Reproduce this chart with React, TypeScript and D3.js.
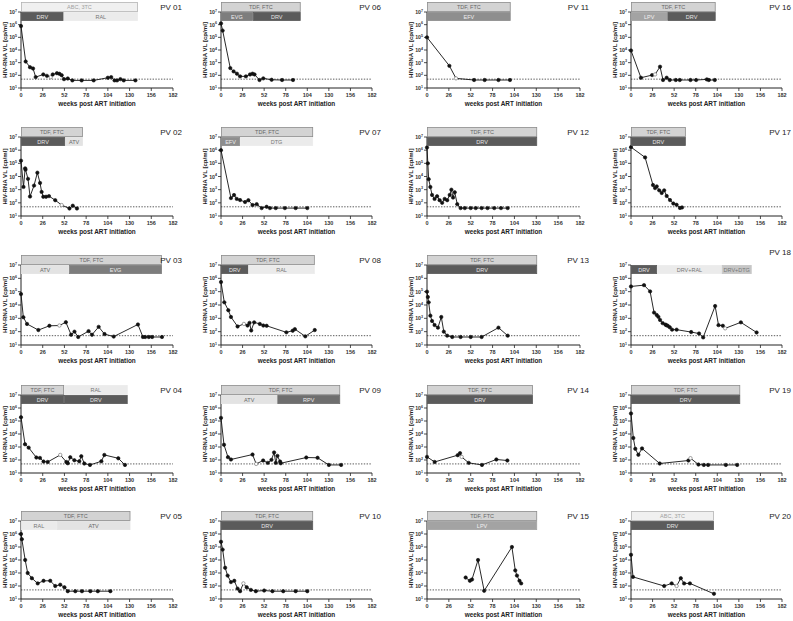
import React from 'react';
import * as d3 from 'd3';

// ---- data: [week, log10(VL cp/ml), open?] ----
const pv01 = [[0,5.89],[5.6,3.09],[10.8,2.64],[14.4,2.54],[17.6,1.86],[26.7,2.07],[31,1.96],[35.5,1.86,1],[38,2.07],[43,2.17],[46,2.12],[48.7,2.01],[51.5,1.7],[56,1.75],[61.5,1.6],[72.6,1.6],[87,1.6],[104,1.81],[108,1.86],[112,1.6],[115,1.6],[119,1.7],[123,1.6],[137,1.6]];
const pv06 = [[0,6.1],[2,5.53],[11.2,2.57],[15.2,2.31],[19.2,2.13],[23,1.92],[30,1.92],[35,2.07],[38,2.13],[40.4,2.07],[46.4,1.63],[51,1.76],[61,1.65],[73.6,1.63],[86.8,1.63]];
const pv11 = [[0,5.0],[26.6,2.75],[34.5,1.76,1],[56,1.63],[68.6,1.63],[85,1.63],[98.7,1.63]];
const pv16 = [[0,3.96],[12,1.81],[25.4,2.02],[29,2.07,1],[35,2.68],[38.6,1.63],[43,1.81],[46.7,1.63],[54,1.63],[58.8,1.63],[71.7,1.63],[78.5,1.63],[91.4,1.68],[93.8,1.63],[101,1.63]];
const pv02 = [[0,5.2],[3,3.21],[5,4.62],[5.4,4.52],[8.4,3.82],[10.8,2.48],[15.6,3.31],[19.6,4.29],[22.8,3.51],[24.7,2.83],[26.7,2.46],[30,2.46],[33.5,2.51],[41,2.2],[48.7,1.83,1],[58,1.57],[62,1.78],[67,1.57]];
const pv07 = [[0,6.0],[12,2.36],[15.7,2.59],[19,2.3],[23,2.21],[29,2.06],[33,2.2],[38,1.83],[43,1.9],[49,1.6],[55,1.7],[59,1.6],[66,1.6],[77,1.6],[90,1.6],[104,1.6]];
const pv12 = [[0,6.2],[1,5.0],[2,3.8],[4,3.2],[6,2.6],[9,2.3],[12,2.5],[15,2.2],[18,2.0],[21,2.3],[24,2.2],[27,2.6],[29,3.0],[31,2.4],[33,2.8],[36,1.9],[40,1.6],[45,1.6],[52,1.6],[58,1.6],[65,1.6],[72,1.6],[80,1.6],[88,1.6],[96,1.6]];
const pv17 = [[0,6.23],[17,5.45],[26.5,3.35],[29,3.12],[31,3.25],[34,2.95],[37,2.75],[40,2.95],[43,2.52],[47,2.21],[51,1.95],[55,1.85],[59,1.61],[61.5,1.65]];
const pv03 = [[0,4.82],[2.8,3.08],[7.2,2.58],[20.8,2.12],[34,2.44],[46,2.46,1],[53.7,2.71],[60,1.77],[64,2.0],[68.5,1.6],[80.9,2.04],[85,1.77],[93,2.36],[100,1.82],[111,1.63],[140,2.54],[146,1.6],[148.7,1.6],[153,1.6],[157,1.6],[168.8,1.6]];
const pv08 = [[0,5.72],[4,4.2],[8.8,3.61],[12,3.1],[20,2.39],[27.6,2.58,1],[32,2.46],[34.4,2.66],[36.4,2.09],[40,2.7],[46.8,2.58],[51,2.46],[55,2.44],[78.8,1.95],[86.4,2.07],[89,2.19],[101.6,1.65],[113,2.12]];
const pv13 = [[0,5.0],[1,4.6],[2,4.2],[4,3.2],[6,2.8],[9,2.5],[13,2.3],[17,3.1],[20,2.0],[24,1.7],[30,1.6],[40,1.6],[52,1.6],[65,1.6],[85,2.3],[96,1.7]];
const pv18 = [[0,5.39],[15.7,5.49],[23,5.02],[27.8,3.43],[31,3.25],[33,3.11],[35,2.88],[38.2,2.64],[41.5,2.53],[42.5,2.49],[44.3,2.44],[46.7,2.33],[49.5,2.15],[55,2.15],[72.5,1.97],[82,1.86],[87,1.57],[101.4,3.92],[105.5,2.49],[110.7,2.44],[113.5,2.25,1],[132.4,2.7],[151.4,1.94]];
const pv04 = [[0,5.29],[4.8,3.21],[9.2,2.95],[18.4,2.19],[22.7,2.16],[27,1.88],[32,1.85],[47,2.39,1],[54.3,1.85],[56,1.75],[59,2.21],[63.9,1.98],[69.8,1.9],[72.2,2.29],[75.8,1.73],[82.6,1.62],[96.2,1.9],[99.8,2.39],[116.5,2.13],[124.5,1.62]];
const pv09 = [[0,5.24],[3.6,3.17],[8.4,2.22],[12,2.04],[38,2.42],[42.4,1.7,1],[50.8,1.96],[56.4,1.78],[60.8,2.01],[64,2.58],[66,1.78],[68,2.32],[71.2,1.88],[72,1.75],[102.8,2.19],[116.4,2.17],[130,1.62],[144.8,1.62]];
const pv14 = [[0,2.24],[9.1,1.85],[36.5,2.37],[39.3,2.53],[41.2,2.24,1],[49.6,1.78],[65.4,1.62],[82.5,2.04],[95.6,1.96]];
const pv19 = [[0,5.58],[2.8,3.69],[5.2,2.86],[8.9,2.4],[13.3,2.89],[34.6,1.73],[69.2,1.96],[71.7,2.14,1],[81.3,1.65],[87.8,1.62],[93,1.62],[114.3,1.62],[128,1.62]];
const pv05 = [[0,6.0],[1,5.6],[5,4.0],[8,3.0],[13,2.6],[20,2.2],[27,2.4],[35,2.4],[41,2.0],[47,2.1],[52,1.9],[56,1.6],[65,1.6],[73,1.6],[83,1.6],[92,1.6],[107,1.6]];
const pv10 = [[0,5.4],[2,4.8],[5,3.4],[8,2.8],[12,2.3],[16,2.4],[20,1.8],[23,1.6],[27,2.2,1],[31,1.9],[36,1.7],[42,1.6],[52,1.65],[62,1.6],[75,1.6],[90,1.6],[104,1.6]];
const pv15 = [[46,2.65],[51,2.4],[53.5,2.5],[60.7,4.0],[68,1.63],[101,5.0],[105,3.2],[107,2.8],[110,2.4],[112,2.2]];
const pv20 = [[0,4.4],[2.4,2.7],[40,2.0],[49,2.2],[55,2.0,1],[60,2.6],[64,2.2],[71,2.2],[100,1.4]];

// ---- treatment bars: [row, startWeek, endWeek, label, kind] ----
const pv01Bars = [[0,0,140,'ABC, 3TC','abc'],[1,0,51,'DRV','drv'],[1,51,140,'RAL','ral']];
const pv06Bars = [[0,0,96,'TDF, FTC','tdf'],[1,0,38.4,'EVG','evg'],[1,38.4,96,'DRV','drv']];
const pv11Bars = [[0,0,99.5,'TDF, FTC','tdf'],[1,0,99.5,'EFV','efv']];
const pv16Bars = [[0,0,102,'TDF, FTC','tdf'],[1,0,44,'LPV','lpv'],[1,44,102,'DRV','drv']];
const pv02Bars = [[0,0,74,'TDF, FTC','tdf'],[1,0,53,'DRV','drv'],[1,53,74,'ATV','atv']];
const pv07Bars = [[0,0,111,'TDF, FTC','tdf'],[1,0,23,'EFV','efv'],[1,23,111,'DTG','dtg']];
const pv12Bars = [[0,0,131,'TDF, FTC','tdf'],[1,0,131,'DRV','drv']];
const pv17Bars = [[0,0,66,'TDF, FTC','tdf'],[1,0,66,'DRV','drv']];
const pv03Bars = [[0,0,168.7,'TDF, FTC','tdf'],[1,0,57.7,'ATV','atv'],[1,57.7,168.7,'EVG','evg']];
const pv08Bars = [[0,0,113,'TDF, FTC','tdf'],[1,0,33,'DRV','drv'],[1,33,113,'RAL','ral']];
const pv13Bars = [[0,0,131,'TDF, FTC','tdf'],[1,0,131,'DRV','drv']];
const pv18Bars = [[1,0,31.4,'DRV','drv'],[1,31.4,109.5,'DRV+RAL','ral'],[1,109.5,145.4,'DRV+DTG','dtg2']];
const pv04Bars = [[0,0,51.5,'TDF, FTC','tdf'],[0,51.5,127.7,'RAL','ral'],[1,0,51.5,'DRV','drv'],[1,51.5,127.7,'DRV','drv']];
const pv09Bars = [[0,0,143.6,'TDF, FTC','tdf'],[1,0,68,'ATV','atv'],[1,68,143.6,'RPV','rpv']];
const pv14Bars = [[0,0,126,'TDF, FTC','tdf'],[1,0,126,'DRV','drv']];
const pv19Bars = [[0,0,131.6,'TDF, FTC','tdf'],[1,0,131.6,'DRV','drv']];
const pv05Bars = [[0,0,131,'TDF, FTC','tdf'],[1,0,43,'RAL','ral'],[1,43,131,'ATV','atv']];
const pv10Bars = [[0,0,111,'TDF, FTC','tdf'],[1,0,111,'DRV','drv']];
const pv15Bars = [[0,0,131,'TDF, FTC','tdf'],[1,0,131,'LPV','lpv']];
const pv20Bars = [[0,0,100,'ABC, 3TC','abc'],[1,0,100,'DRV','drv']];

const panelIds = ['PV 01','PV 06','PV 11','PV 16','PV 02','PV 07','PV 12','PV 17','PV 03','PV 08','PV 13','PV 18','PV 04','PV 09','PV 14','PV 19','PV 05','PV 10','PV 15','PV 20'];
const panelPts = [pv01,pv06,pv11,pv16,pv02,pv07,pv12,pv17,pv03,pv08,pv13,pv18,pv04,pv09,pv14,pv19,pv05,pv10,pv15,pv20];
const panelBars = [pv01Bars,pv06Bars,pv11Bars,pv16Bars,pv02Bars,pv07Bars,pv12Bars,pv17Bars,pv03Bars,pv08Bars,pv13Bars,pv18Bars,pv04Bars,pv09Bars,pv14Bars,pv19Bars,pv05Bars,pv10Bars,pv15Bars,pv20Bars];

const xTicks = [0, 26, 52, 78, 104, 130, 156, 182];
const yExps = [1, 2, 3, 4, 5, 6, 7];
const detectionLimit = 50;

// ---- layout ----
const colX0 = [21, 221, 427, 631];
const colX1 = [173, 372, 580, 782];
const rowTop = [12, 137, 265, 395, 521];
const rowBot = [88, 216, 345, 473, 599];

const barStyle: Record<string, { fill: string; stroke: string; text: string }> = {
  tdf: { fill: '#d3d3d3', stroke: '#8c8c8c', text: '#666' },
  abc: { fill: '#f0f0f0', stroke: '#b4b4b4', text: '#a0a0a0' },
  drv: { fill: '#5b5b5b', stroke: '#5b5b5b', text: '#e6e6e6' },
  evg: { fill: '#7d7d7d', stroke: '#7d7d7d', text: '#eee' },
  efv: { fill: '#8e8e8e', stroke: '#8e8e8e', text: '#eee' },
  lpv: { fill: '#a3a3a3', stroke: '#a3a3a3', text: '#f2f2f2' },
  rpv: { fill: '#6e6e6e', stroke: '#6e6e6e', text: '#eee' },
  ral: { fill: '#ebebeb', stroke: '#ebebeb', text: '#777' },
  atv: { fill: '#e3e3e3', stroke: '#e3e3e3', text: '#666' },
  dtg: { fill: '#ebebeb', stroke: '#ebebeb', text: '#777' },
  dtg2: { fill: '#c6c6c6', stroke: '#c6c6c6', text: '#777' },
};

const FONT = '"Liberation Sans", Arial, sans-serif';

function Panel({ idx }: { idx: number }) {
  const col = idx % 4;
  const row = Math.floor(idx / 4);
  const x0 = colX0[col], x1 = colX1[col];
  const top = rowTop[row], bot = rowBot[row];
  const x = d3.scaleLinear().domain([0, 182]).range([x0, x1]);
  const y = d3.scaleLog().domain([10, 1e7]).range([bot, top]);
  const pts = panelPts[idx] as number[][];
  const bars = panelBars[idx] as any[];
  const line = d3.line<number[]>().x(d => x(d[0])).y(d => y(Math.pow(10, d[1])));
  const id = panelIds[idx];
  const labelDy = id === 'PV 18' ? -8 : 0;
  return (
    <g>
      {/* dashed detection limit */}
      <line x1={x0} x2={x1} y1={y(detectionLimit)} y2={y(detectionLimit)} stroke="#333" strokeWidth={0.8} strokeDasharray="1.4,1.4" />
      {/* y axis */}
      <line x1={x0} x2={x0} y1={top} y2={bot} stroke="#222" strokeWidth={1} />
      {yExps.map(e => (
        <g key={e}>
          <line x1={x0 - 3} x2={x0} y1={y(Math.pow(10, e))} y2={y(Math.pow(10, e))} stroke="#222" strokeWidth={0.8} />
          <text x={x0 - 4} y={y(Math.pow(10, e)) + 2} textAnchor="end" fontSize={5.2} fontWeight="bold" fill="#333" fontFamily={FONT}>
            10<tspan dy={-2.4} fontSize={3.6}>{e}</tspan>
          </text>
        </g>
      ))}
      {/* x axis */}
      <line x1={x0} x2={x1} y1={bot} y2={bot} stroke="#222" strokeWidth={1} />
      {xTicks.map(t => (
        <g key={t}>
          <line x1={x(t)} x2={x(t)} y1={bot} y2={bot + 3} stroke="#222" strokeWidth={0.8} />
          <text x={x(t)} y={bot + 9} textAnchor="middle" fontSize={5.5} fontWeight="bold" fill="#333" fontFamily={FONT}>{t}</text>
        </g>
      ))}
      <text x={(x0 + x1) / 2} y={bot + 17.5} textAnchor="middle" fontSize={6.4} fontWeight="bold" fill="#222" fontFamily={FONT}>weeks post ART initiation</text>
      <text transform={`translate(${x0 - 14},${(top + bot) / 2}) rotate(-90)`} textAnchor="middle" fontSize={6.1} fontWeight="bold" fill="#222" fontFamily={FONT}>HIV-RNA VL [cp/ml]</text>
      {/* data */}
      <path d={line(pts) || ''} fill="none" stroke="#111" strokeWidth={0.9} />
      {pts.map((p, i) => (
        <circle key={i} cx={x(p[0])} cy={y(Math.pow(10, p[1]))} r={1.7}
          fill={p[2] ? '#fff' : '#111'} stroke={p[2] ? '#666' : '#111'} strokeWidth={0.6} />
      ))}
      {/* treatment bars */}
      {bars.map((b, i) => {
        const st = barStyle[b[4]];
        const by = b[0] === 0 ? top - 10 : top;
        const bh = b[0] === 0 ? 10 : 9;
        const bx = x(b[1]);
        const bw = x(b[2]) - x(b[1]);
        return (
          <g key={i}>
            <rect x={bx + 0.4} y={by + 0.4} width={bw - 0.8} height={bh - 0.8} fill={st.fill} stroke={st.stroke} strokeWidth={0.8} />
            <text x={bx + bw / 2} y={by + bh / 2 + 2} textAnchor="middle" fontSize={5.5} fill={st.text} fontFamily={FONT}>{b[3]}</text>
          </g>
        );
      })}
      <text x={x1 + 9} y={top - 2 + labelDy} textAnchor="end" fontSize={8} fill="#222" fontFamily={FONT}>{id}</text>
    </g>
  );
}

export default function App() {
  return (
    <svg width={793} height={621} style={{ position: 'absolute', left: 0, top: 0, background: '#fff' }}>
      <rect width={793} height={621} fill="#fff" />
      {panelIds.map((_, i) => <Panel key={i} idx={i} />)}
    </svg>
  );
}
